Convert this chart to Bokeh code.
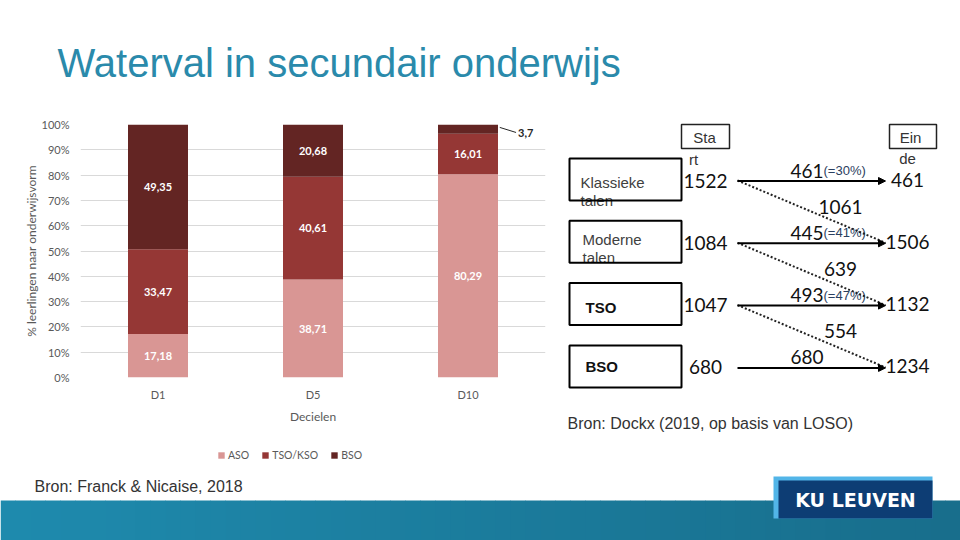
import numpy as np
from bokeh.plotting import figure
from bokeh.layouts import column, row
from bokeh.models import (Range1d, FactorRange, ColumnDataSource, Legend, LegendItem,
                          PrintfTickFormatter, FixedTicker, Arrow, NormalHead)
from bokeh.transform import dodge
from bokeh.core.properties import value
from bokeh.embed import file_html
from bokeh.resources import INLINE

# ---------------- data ----------------
TITLE = "Waterval in secundair onderwijs"
deciles = ["D1", "D5", "D10"]
aso = [17.18, 38.71, 80.29]
tso_kso = [33.47, 40.61, 16.01]
bso = [49.35, 20.68, 3.7]
series_names = ["ASO", "TSO/KSO", "BSO"]
y_ticks = [0, 10, 20, 30, 40, 50, 60, 70, 80, 90, 100]
y_title = "% leerlingen naar onderwijsvorm"
x_title = "Decielen"
source_left = "Bron: Franck & Nicaise, 2018"

flow_categories = ["Klassieke talen", "Moderne talen", "TSO", "BSO"]
flow_start = [1522, 1084, 1047, 680]
flow_stay = [461, 445, 493, 680]
flow_stay_pct = ["(=30%)", "(=41%)", "(=47%)", ""]
flow_down = [1061, 639, 554]
flow_end = [461, 1506, 1132, 1234]
start_header = ["Sta", "rt"]
end_header = ["Ein", "de"]
source_right = "Bron: Dockx (2019, op basis van LOSO)"
logo_text = "KU LEUVEN"

# ---------------- styles ----------------
BAR_COLORS = ["#d99694", "#953735", "#632523"]
GRAY = "#595959"
TITLE_COLOR = "#2a8aab"
SANS = "Liberation Sans"
NUM = "Lato"


def fmt(v):
    return ("%g" % v).replace(".", ",")


def no_align(p):
    try:
        p.frame_align = False
    except Exception:
        pass


def blank(p):
    p.grid.visible = False
    p.outline_line_color = None
    p.min_border_left = p.min_border_right = p.min_border_top = p.min_border_bottom = 0
    no_align(p)


# ---------------- title strip (page y 0..108) ----------------
pt = figure(width=960, height=108, x_range=Range1d(0, 960), y_range=Range1d(108, 0),
            output_backend="svg", toolbar_location=None,
            x_axis_location=None, y_axis_location=None)
blank(pt)
pt.text(x=[57], y=[62], text=[TITLE], text_font=value(SANS), text_font_size="40px",
        text_color=TITLE_COLOR, text_baseline="middle", text_align="left")

# ---------------- bar chart (page x 0..555, y 108..438) ----------------
pb = figure(width=555, height=330, x_range=FactorRange(*deciles), y_range=Range1d(0, 100),
            output_backend="svg", toolbar_location=None,
            min_border_left=80, min_border_right=10, min_border_top=16, min_border_bottom=61)
no_align(pb)
pb.outline_line_color = None
pb.xgrid.visible = False
pb.ygrid.grid_line_color = "#d9d9d9"
pb.ygrid.grid_line_width = 1

src = ColumnDataSource(dict(x=deciles, s0=aso, s1=tso_kso, s2=bso))
rends = pb.vbar_stack(["s0", "s1", "s2"], x="x", width=0.387, color=BAR_COLORS,
                      line_color=None, source=src)

pb.yaxis.ticker = FixedTicker(ticks=y_ticks)
pb.yaxis.formatter = PrintfTickFormatter(format="%d%%")
for ax in (pb.xaxis, pb.yaxis):
    ax.axis_line_color = None
    ax.major_tick_line_color = None
    ax.minor_tick_line_color = None
    ax.major_label_text_font = NUM
    ax.major_label_text_font_size = "11px"
    ax.major_label_text_color = GRAY
    ax.axis_label_text_font = NUM
    ax.axis_label_text_font_size = "12px"
    ax.axis_label_text_font_style = "normal"
    ax.axis_label_text_color = GRAY
pb.yaxis.major_label_standoff = 5
pb.yaxis.axis_label = y_title
pb.yaxis.axis_label_standoff = 0
pb.xaxis.major_label_standoff = 4
pb.xaxis.axis_label = x_title
pb.xaxis.axis_label_standoff = 5

# data labels
bottoms = np.zeros(len(deciles))
in_x, in_y, in_t = [], [], []
out_x, out_y, out_t = [], [], []
for vals in (aso, tso_kso, bso):
    for i, v in enumerate(vals):
        c = bottoms[i] + v / 2.0
        if v >= 5:
            in_x.append(deciles[i]); in_y.append(c); in_t.append(fmt(v))
        else:
            out_x.append(deciles[i]); out_y.append(c); out_t.append(fmt(v))
    bottoms += np.array(vals)

pb.text(x=in_x, y=in_y, text=in_t, text_align="center", text_baseline="middle",
        text_color="white", text_font=value(NUM), text_font_style="bold",
        text_font_size="11px")
if out_x:
    lsrc = ColumnDataSource(dict(x=out_x, y0=[y + 0.7 for y in out_y],
                                 y1=[y - 1.3 for y in out_y], y=out_y, t=out_t))
    pb.segment(x0=dodge("x", 0.205, range=pb.x_range), y0="y0",
               x1=dodge("x", 0.31, range=pb.x_range), y1="y1",
               line_color="#262626", line_width=1, source=lsrc)
    pb.text(x="x", y="y", text="t", x_offset=50, y_offset=3.5, text_align="left",
            text_baseline="middle", text_color="#262626", text_font=value(NUM),
            text_font_style="bold", text_font_size="11px", source=lsrc)

# ---------------- legend strip (page x 0..555, y 438..470) ----------------
plg = figure(width=555, height=32, x_range=Range1d(0, 555), y_range=Range1d(470, 438),
             output_backend="svg", toolbar_location=None,
             x_axis_location=None, y_axis_location=None)
blank(plg)
# off-screen swatch renderers (legend keys only)
swatches = [plg.vbar(x=[-100], top=[500], bottom=[490], width=1, color=c, line_color=None)
            for c in BAR_COLORS]
legend = Legend(items=[LegendItem(label=nm, renderers=[r]) for nm, r in zip(series_names, swatches)],
                orientation="horizontal", location=(217, 9),
                glyph_width=8, glyph_height=8, label_standoff=3, spacing=12,
                padding=0, margin=0, label_height=12,
                label_text_font=NUM, label_text_font_size="10.5px",
                label_text_color=GRAY, background_fill_alpha=0, border_line_color=None)
plg.add_layout(legend)

# ---------------- flow diagram (page x 555..960, y 108..470) ----------------
pf = figure(width=405, height=362, x_range=Range1d(555, 960), y_range=Range1d(470, 108),
            output_backend="svg", toolbar_location=None,
            x_axis_location=None, y_axis_location=None)
blank(pf)

n = len(flow_categories)
row_y = [180 + 62.3 * i for i in range(n)]

label_x = [580, 582, 585, 585]
label_dy = [2, -3, 2.5, -1]
bold_rows = [False, False, True, True]
for i, cat in enumerate(flow_categories):
    words = cat.split(" ")
    y1 = row_y[i] + label_dy[i]
    pf.text(x=[label_x[i]], y=[y1], text=[words[0]], text_font=value(SANS),
            text_font_size="15px", text_baseline="middle",
            text_font_style="bold" if bold_rows[i] else "normal",
            text_color="#111111" if bold_rows[i] else "#404040")
    if len(words) > 1:
        pf.text(x=[label_x[i]], y=[y1 + 18], text=[" ".join(words[1:])],
                text_font=value(SANS), text_font_size="15px", text_baseline="middle",
                text_color="#404040")

pf.quad(left=[569] * n, right=[681] * n, top=[y - 22 for y in row_y],
        bottom=[y + 20 for y in row_y], fill_color=None, line_color="black", line_width=2)

pf.quad(left=[681, 889], right=[729, 936], top=[124, 124], bottom=[148, 148],
        fill_color=None, line_color="#222222", line_width=1.5)
pf.text(x=[704, 910], y=[137, 137], text=[start_header[0], end_header[0]],
        text_align="center", text_baseline="middle", text_font=value(SANS),
        text_font_size="15px", text_color="#333333")
pf.text(x=[693, 907], y=[159, 158], text=[start_header[1], end_header[1]],
        text_align="center", text_baseline="middle", text_font=value(SANS),
        text_font_size="15px", text_color="#333333")

pf.text(x=[705] * n, y=row_y, text=[str(v) for v in flow_start], text_align="center",
        text_baseline="middle", text_font=value(NUM), text_font_size="19px",
        text_color="#111111")
pf.text(x=[907] * n, y=[y - 1 for y in row_y], text=[str(v) for v in flow_end],
        text_align="center", text_baseline="middle", text_font=value(NUM),
        text_font_size="19px", text_color="#111111")
pf.text(x=[823] * n, y=[y - 10 for y in row_y], text=[str(v) for v in flow_stay],
        text_align="right", text_baseline="middle", text_font=value(NUM),
        text_font_size="19px", text_color="#111111")
pct_idx = [i for i in range(n) if flow_stay_pct[i]]
pf.text(x=[823] * len(pct_idx), y=[row_y[i] - 10 for i in pct_idx],
        text=[flow_stay_pct[i] for i in pct_idx],
        text_align="left", text_baseline="middle", text_font=value(SANS),
        text_font_size="13px", text_color="#2b4060")
mid_y = [(row_y[i] + row_y[i + 1]) / 2 - 5 for i in range(n - 1)]
pf.text(x=[840] * (n - 1), y=mid_y, text=[str(v) for v in flow_down],
        text_align="center", text_baseline="middle", text_font=value(NUM),
        text_font_size="19px", text_color="#111111")

solid = ColumnDataSource(dict(x0=[737] * n, y0=[y + 0.5 for y in row_y],
                              x1=[885] * n, y1=[y + 0.5 for y in row_y]))
pf.add_layout(Arrow(end=NormalHead(size=7, fill_color="black", line_color="black"),
                    x_start="x0", y_start="y0", x_end="x1", y_end="y1",
                    line_width=2, line_color="black", source=solid))
dotted = ColumnDataSource(dict(x0=[737] * (n - 1), y0=row_y[:-1],
                               x1=[885] * (n - 1), y1=row_y[1:]))
pf.segment(x0="x0", y0="y0", x1="x1", y1="y1", line_width=2, line_color="#222222",
           line_dash="2 2", source=dotted)

pf.text(x=[567], y=[423], text=[source_right], text_font=value(SANS),
        text_font_size="16px", text_baseline="middle", text_color="#333333")

# ---------------- footer (page y 470..540) ----------------
pfo = figure(width=960, height=70, x_range=Range1d(0, 960), y_range=Range1d(540, 470),
             output_backend="svg", toolbar_location=None,
             x_axis_location=None, y_axis_location=None)
blank(pfo)

nstrip = 64
edges = np.linspace(0, 960, nstrip + 1)
c0 = np.array([31, 139, 174])
c1 = np.array([24, 110, 140])
cols = []
for k in range(nstrip):
    t = (k + 0.5) / nstrip
    c = (c0 + (c1 - c0) * t).astype(int)
    cols.append("#%02x%02x%02x" % tuple(c))
pfo.quad(left=list(edges[:-1]), right=list(edges[1:] + 0.5), top=[500] * nstrip,
         bottom=[540] * nstrip, fill_color=cols, line_color=None)

pfo.text(x=[34], y=[486], text=[source_left], text_font=value(SANS), text_font_size="16px",
         text_baseline="middle", text_color="#333333")

pfo.quad(left=[773], right=[932], top=[476], bottom=[518], fill_color="#52b5e8", line_color=None)
pfo.quad(left=[778], right=[932], top=[480], bottom=[518], fill_color="#0d3d74", line_color=None)
pfo.text(x=[855], y=[499.5], text=[logo_text], text_align="center", text_baseline="middle",
         text_font=value("DejaVu Sans"), text_font_style="bold", text_font_size="19px",
         text_color="white")

layout = column(pt, row(column(pb, plg), pf), pfo)
open("out.html", "w").write(file_html(layout, INLINE))
